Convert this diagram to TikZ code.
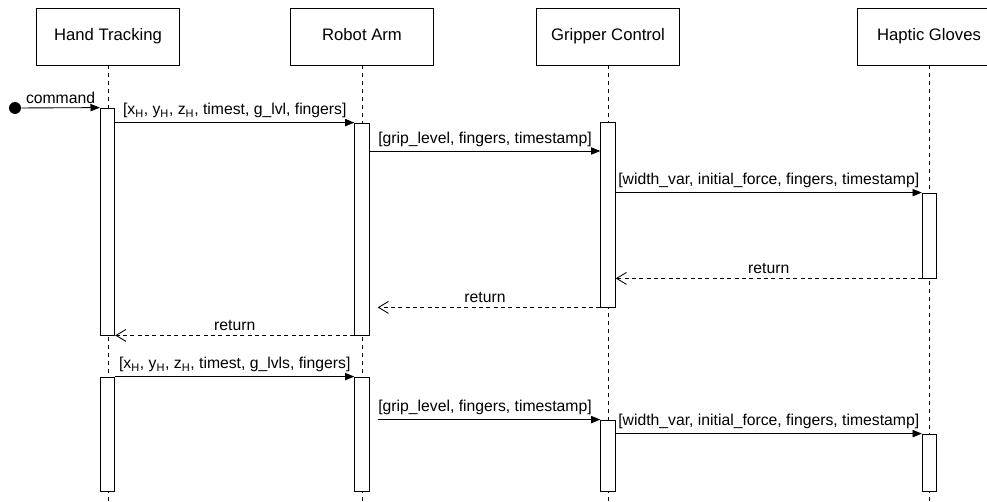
\documentclass[tikz,border=0pt]{standalone}
\usepackage{fontspec}
\setmainfont{Liberation Sans}
\usetikzlibrary{arrows.meta}

\begin{document}
\begin{tikzpicture}[x=0.75pt, y=-0.75pt,
  actor/.style={draw, line width=0.6pt, minimum width=107pt,
    minimum height=42.75pt, text height=9pt, text depth=2.5pt,
    font=\fontsize{12.5}{15}\selectfont},
  bar/.style={draw, fill=white, line width=0.6pt, minimum width=10.9pt,
    inner sep=0pt},
  life/.style={line width=0.5pt, dash pattern=on 3pt off 3pt},
  msg/.style={-{Triangle[length=7pt,width=5.5pt]}, line width=0.65pt},
  reply/.style={-{Straight Barb[length=7.5pt,width=9pt]}, line width=0.65pt,
    dash pattern=on 3pt off 2.5pt},
  lbl/.style={above, yshift=1pt, inner sep=2pt,
    font=\fontsize{11.8}{14}\selectfont}]
\clip (0,0) rectangle (987,502);
\node (ht) [actor] at (108,36.5) {Hand Tracking};
\node (ra) [actor] at (362,36.5) {Robot Arm};
\node (gc) [actor] at (608,36.5) {Gripper Control};
\node (hg) [actor] at (929,36.5) {Haptic Gloves};
\coordinate (end) at (0,510);
\foreach \a in {ht,ra,gc,hg}
  \draw[life] (\a.south) -- (\a.south |- end);
\node (ht1) [bar, minimum height=170.25pt] at (107.5,221.5) {};
\node (ra1) [bar, minimum height=159pt] at (362,229) {};
\node (gc1) [bar, minimum height=138.75pt] at (608,214.5) {};
\node (hg1) [bar, minimum height=63.75pt] at (929.5,235.5) {};
\node (ht2) [bar, minimum height=85.5pt] at (107.5,434) {};
\node (ra2) [bar, minimum height=85.5pt] at (362,434) {};
\node (gc2) [bar, minimum height=53.25pt] at (608,455.5) {};
\node (hg2) [bar, minimum height=42.75pt] at (929.5,462.5) {};
\node (start) [circle, fill=black, minimum size=9pt, inner sep=0pt]
  at (15,108) {};
\coordinate (m2) at (0,151);
\draw[msg] (start) -- node[lbl] {command} (ht1.north west);
\draw[msg] (ht1.east |- ra1.north) -- node[lbl]
  {[x\textsubscript{H}, y\textsubscript{H}, z\textsubscript{H}, timest, g\_lvl, fingers]}
  (ra1.north west);
\draw[msg] (ra1.east |- m2) -- node[lbl]
  {[grip\_level, fingers, timestamp]} (gc1.west |- m2);
\draw[msg] (gc1.east |- hg1.north) -- node[lbl]
  {[width\_var, initial\_force, fingers, timestamp]} (hg1.north west);
\draw[reply] (hg1.south west) -- node[lbl] {return} (gc1.east |- hg1.south);
\draw[reply, shorten >=6pt] (gc1.south west) -- node[lbl] {return}
  (ra1.east |- gc1.south);
\draw[reply] (ra1.south west) -- node[lbl] {return} (ht1.south east);
\draw[msg] (ht2.north east) -- node[lbl]
  {[x\textsubscript{H}, y\textsubscript{H}, z\textsubscript{H}, timest, g\_lvls, fingers]}
  (ra2.north west);
\draw[msg, shorten <=6pt] (ra2.east |- gc2.north) -- node[lbl]
  {[grip\_level, fingers, timestamp]} (gc2.north west);
\draw[msg] (gc2.east |- hg2.north) -- node[lbl]
  {[width\_var, initial\_force, fingers, timestamp]} (hg2.north west);
\end{tikzpicture}
\end{document}
